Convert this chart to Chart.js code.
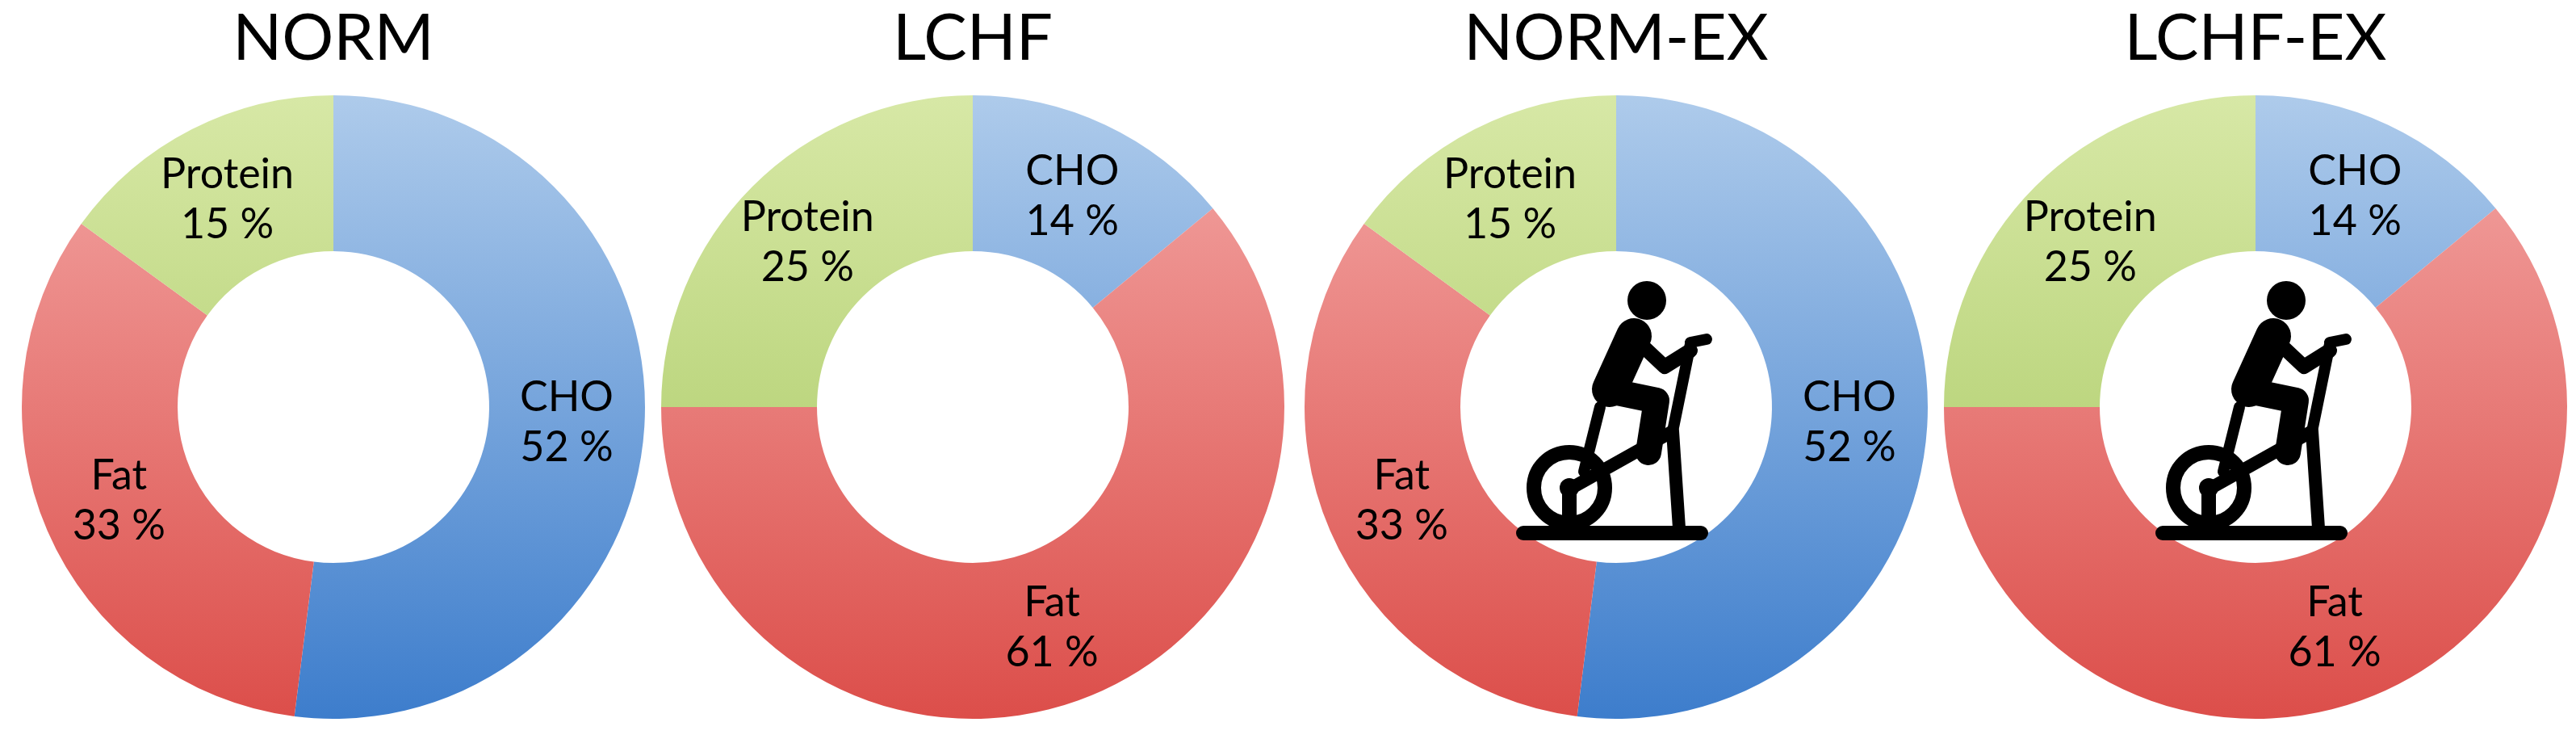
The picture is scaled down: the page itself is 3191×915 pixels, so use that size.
<!DOCTYPE html>
<html>
<head>
<meta charset="utf-8">
<script src="https://cdn.jsdelivr.net/npm/chart.js@4"></script>
<style>
body { margin: 0; background: #fff; width: 3191px; height: 915px; position: relative; overflow: hidden; }
.box { position: absolute; top: 0; width: 790px; height: 915px; }
</style>
</head>
<body>
<div class="box" style="left:18px"><canvas id="c0"></canvas></div>
<div class="box" style="left:810px"><canvas id="c1"></canvas></div>
<div class="box" style="left:1607px"><canvas id="c2"></canvas></div>
<div class="box" style="left:2399px"><canvas id="c3"></canvas></div>
<script>
const titles = ["NORM", "LCHF", "NORM-EX", "LCHF-EX"];
const labels = ["CHO", "Fat", "Protein"];
const normValues = [52, 33, 15];
const lchfValues = [14, 61, 25];
const exercise = [false, false, true, true];

const gradStops = [
	["#aecbeb", "#3d7dcc"],
	["#f3a7a5", "#dc4e4a"],
	["#d7e8a6", "#a3c55a"]
];

function fill(ctx) {
	const chart = ctx.chart;
	const a = chart.chartArea;
	if (!a) return gradStops[ctx.dataIndex][1];
	const g = chart.ctx.createLinearGradient(0, a.top, 0, a.bottom);
	g.addColorStop(0, gradStops[ctx.dataIndex][0]);
	g.addColorStop(1, gradStops[ctx.dataIndex][1]);
	return g;
}

const decor = {
	id: "decor",
	afterDraw(chart, args, opts) {
		const c = chart.ctx;
		const meta = chart.getDatasetMeta(0);
		const arc0 = meta.data[0];
		const cx = arc0.x, cy = arc0.y;
		const outer = arc0.outerRadius, inner = arc0.innerRadius;
		c.save();
		// title
		c.fillStyle = "#000";
		c.font = "80px Lato";
		c.textAlign = "center";
		c.textBaseline = "middle";
		c.fillText(opts.title, cx, 48);
		// segment labels
		c.font = "52px Lato";
		const vals = chart.data.datasets[0].data;
		meta.data.forEach((arc, i) => {
			const mid = (arc.startAngle + arc.endAngle) / 2;
			const r = inner + (outer - inner) * 0.5;
			const x = cx + Math.cos(mid) * r;
			const y = cy + Math.sin(mid) * r;
			c.fillText(chart.data.labels[i], x, y - 30);
			c.fillText(vals[i] + " %", x, y + 32);
		});
		if (opts.bike) drawBike(c, cx, cy);
		c.restore();
	}
};

function drawBike(c, cx, cy) {
	c.save();
	c.translate(cx, cy);
	c.strokeStyle = "#000";
	c.fillStyle = "#000";
	c.lineCap = "round";
	c.lineJoin = "round";
	// head
	c.beginPath(); c.arc(38, -132, 24, 0, Math.PI * 2); c.fill();
	// torso
	c.lineWidth = 44;
	c.beginPath(); c.moveTo(22, -88); c.lineTo(-8, -22); c.stroke();
	// arm
	c.lineWidth = 18;
	c.beginPath(); c.moveTo(26, -82); c.lineTo(60, -50); c.lineTo(92, -70); c.stroke();
	// handlebar
	c.lineWidth = 14;
	c.beginPath(); c.moveTo(92, -80); c.lineTo(112, -84); c.stroke();
	c.beginPath(); c.moveTo(92, -78); c.lineTo(70, 30); c.stroke();
	// thigh and shin
	c.lineWidth = 32;
	c.beginPath(); c.moveTo(-8, -20); c.lineTo(50, -8); c.lineTo(40, 56); c.stroke();
	// seat post
	c.lineWidth = 14;
	c.beginPath(); c.moveTo(-20, 0); c.lineTo(-40, 80); c.stroke();
	// frame
	c.lineWidth = 16;
	c.beginPath(); c.moveTo(-55, 100); c.lineTo(70, 30); c.lineTo(78, 150); c.stroke();
	// wheel
	c.lineWidth = 18;
	c.beginPath(); c.arc(-58, 100, 44, 0, Math.PI * 2); c.stroke();
	c.beginPath(); c.arc(-58, 100, 12, 0, Math.PI * 2); c.fill();
	// base
	c.lineWidth = 18;
	c.beginPath(); c.moveTo(-115, 156); c.lineTo(105, 156); c.stroke();
	c.beginPath(); c.moveTo(-58, 100); c.lineTo(-58, 156); c.stroke();
	c.restore();
}

titles.forEach((t, i) => {
	const values = (i % 2 === 0) ? normValues : lchfValues;
	new Chart(document.getElementById("c" + i), {
		type: "doughnut",
		data: {
			labels: labels,
			datasets: [{ data: values, backgroundColor: fill, borderWidth: 0 }]
		},
		options: {
			responsive: true,
			maintainAspectRatio: false,
			animation: false,
			cutout: "50%",
			layout: { padding: { top: 118, bottom: 25, left: 9, right: 9 } },
			plugins: {
				legend: { display: false },
				tooltip: { enabled: false },
				decor: { title: t, bike: exercise[i] }
			}
		},
		plugins: [decor]
	});
});
</script>
</body>
</html>
